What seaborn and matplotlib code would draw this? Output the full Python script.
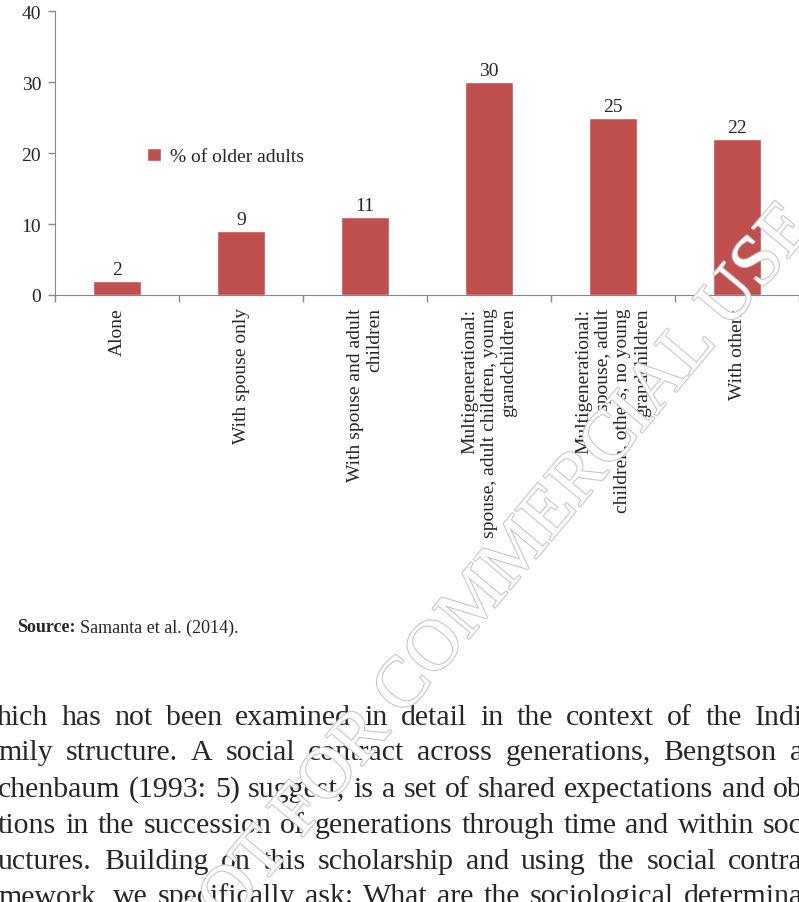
import matplotlib
matplotlib.use("Agg")
import matplotlib.pyplot as plt
import matplotlib.patheffects as pe
import seaborn as sns
import pandas as pd

categories = ["Alone", "With spouse only", "With spouse and adult\nchildren",
              "Multigenerational:\nspouse, adult children, young\ngrandchildren",
              "Multigenerational:\nspouse, adult\nchildren, others, no young\ngrandchildren",
              "With others"]
values = [2, 9, 11, 30, 25, 22]
series_name = "% of older adults"
yticks = [0, 10, 20, 30, 40]

sns.set_style("white")
plt.rcParams['font.family'] = ['Liberation Serif', 'DejaVu Serif']

W, H = 799, 903
fig = plt.figure(figsize=(W/100, H/100), dpi=100)
ax = fig.add_axes([55/W, 1-296/H, 744/W, 284/H])
df = pd.DataFrame({"cat": categories, "val": values, "s": series_name})
sns.barplot(data=df, x="cat", y="val", hue="s", palette=["#C0504D"], width=0.39,
            ax=ax, saturation=1)
ax.set_xlim(-0.5, 5.5)
ax.set_ylim(0, 40)
ax.set_yticks(yticks)
ax.set_xlabel(""); ax.set_ylabel("")
for c in ax.containers:
    ax.bar_label(c, labels=[str(v) for v in values], fontsize=14, padding=2)
ax.set_xticks(range(6))
ax.set_xticklabels(categories, rotation=90, fontsize=14, va="top", ha="center",
                   multialignment="right")
ax.tick_params(axis="x", length=0, pad=9)
ax.set_xticks([i - 0.5 for i in range(7)], minor=True)
ax.tick_params(axis="x", which="minor", length=5, width=1, color="#888888", direction="out")
ax.tick_params(axis="y", length=5, width=1, color="#888888", direction="out", labelsize=14, pad=5)
ax.yaxis.set_tick_params(left=True)
ax.xaxis.set_tick_params(which="minor", bottom=True)
for s in ["top", "right"]:
    ax.spines[s].set_visible(False)
for s in ["left", "bottom"]:
    ax.spines[s].set_color("#888888")
ax.legend(loc="upper left", bbox_to_anchor=(0.1, 0.58), frameon=False, fontsize=14,
          handlelength=0.7, handleheight=0.7, handletextpad=0.5)

fig.text(76/W, 1-628/H, "Source:", fontsize=13, fontweight="bold", va="center", ha="right")
fig.text(80/W, 1-628/H, "Samanta et al. (2014).", fontsize=13, va="center")

para = ["hich has not been examined in detail in the context of the Indi",
        "mily structure. A social contract across generations, Bengtson a",
        "chenbaum (1993: 5) suggest, is a set of shared expectations and ob",
        "tions in the succession of generations through time and within soc",
        "uctures. Building on this scholarship and using the social contra",
        "mework, we specifically ask: What are the sociological determina"]
ys = [718, 753, 790, 826, 862, 897]
fig.canvas.draw()
r = fig.canvas.get_renderer()
for line, y in zip(para, ys):
    words = line.split(" ")
    x0 = -2 if not line.startswith("hich") else -3
    widths = []
    ts = []
    for w in words:
        t = fig.text(0, 1-y/H, w, fontsize=21.5, va="center")
        widths.append(t.get_window_extent(r).width)
        ts.append(t)
    gap = (W + 4 - x0 - sum(widths)) / (len(words) - 1)
    x = x0
    for t, wd in zip(ts, widths):
        t.set_x(x / W)
        x += wd + gap

fig.text(492/W, 1-585/H, "NOT FOR COMMERCIAL USE", fontsize=52, rotation=50,
         ha="center", va="center", color="white",
         path_effects=[pe.Stroke(linewidth=1.5, foreground="#C4C4C4"), pe.Normal()])

fig.savefig("out.png", dpi=100)
